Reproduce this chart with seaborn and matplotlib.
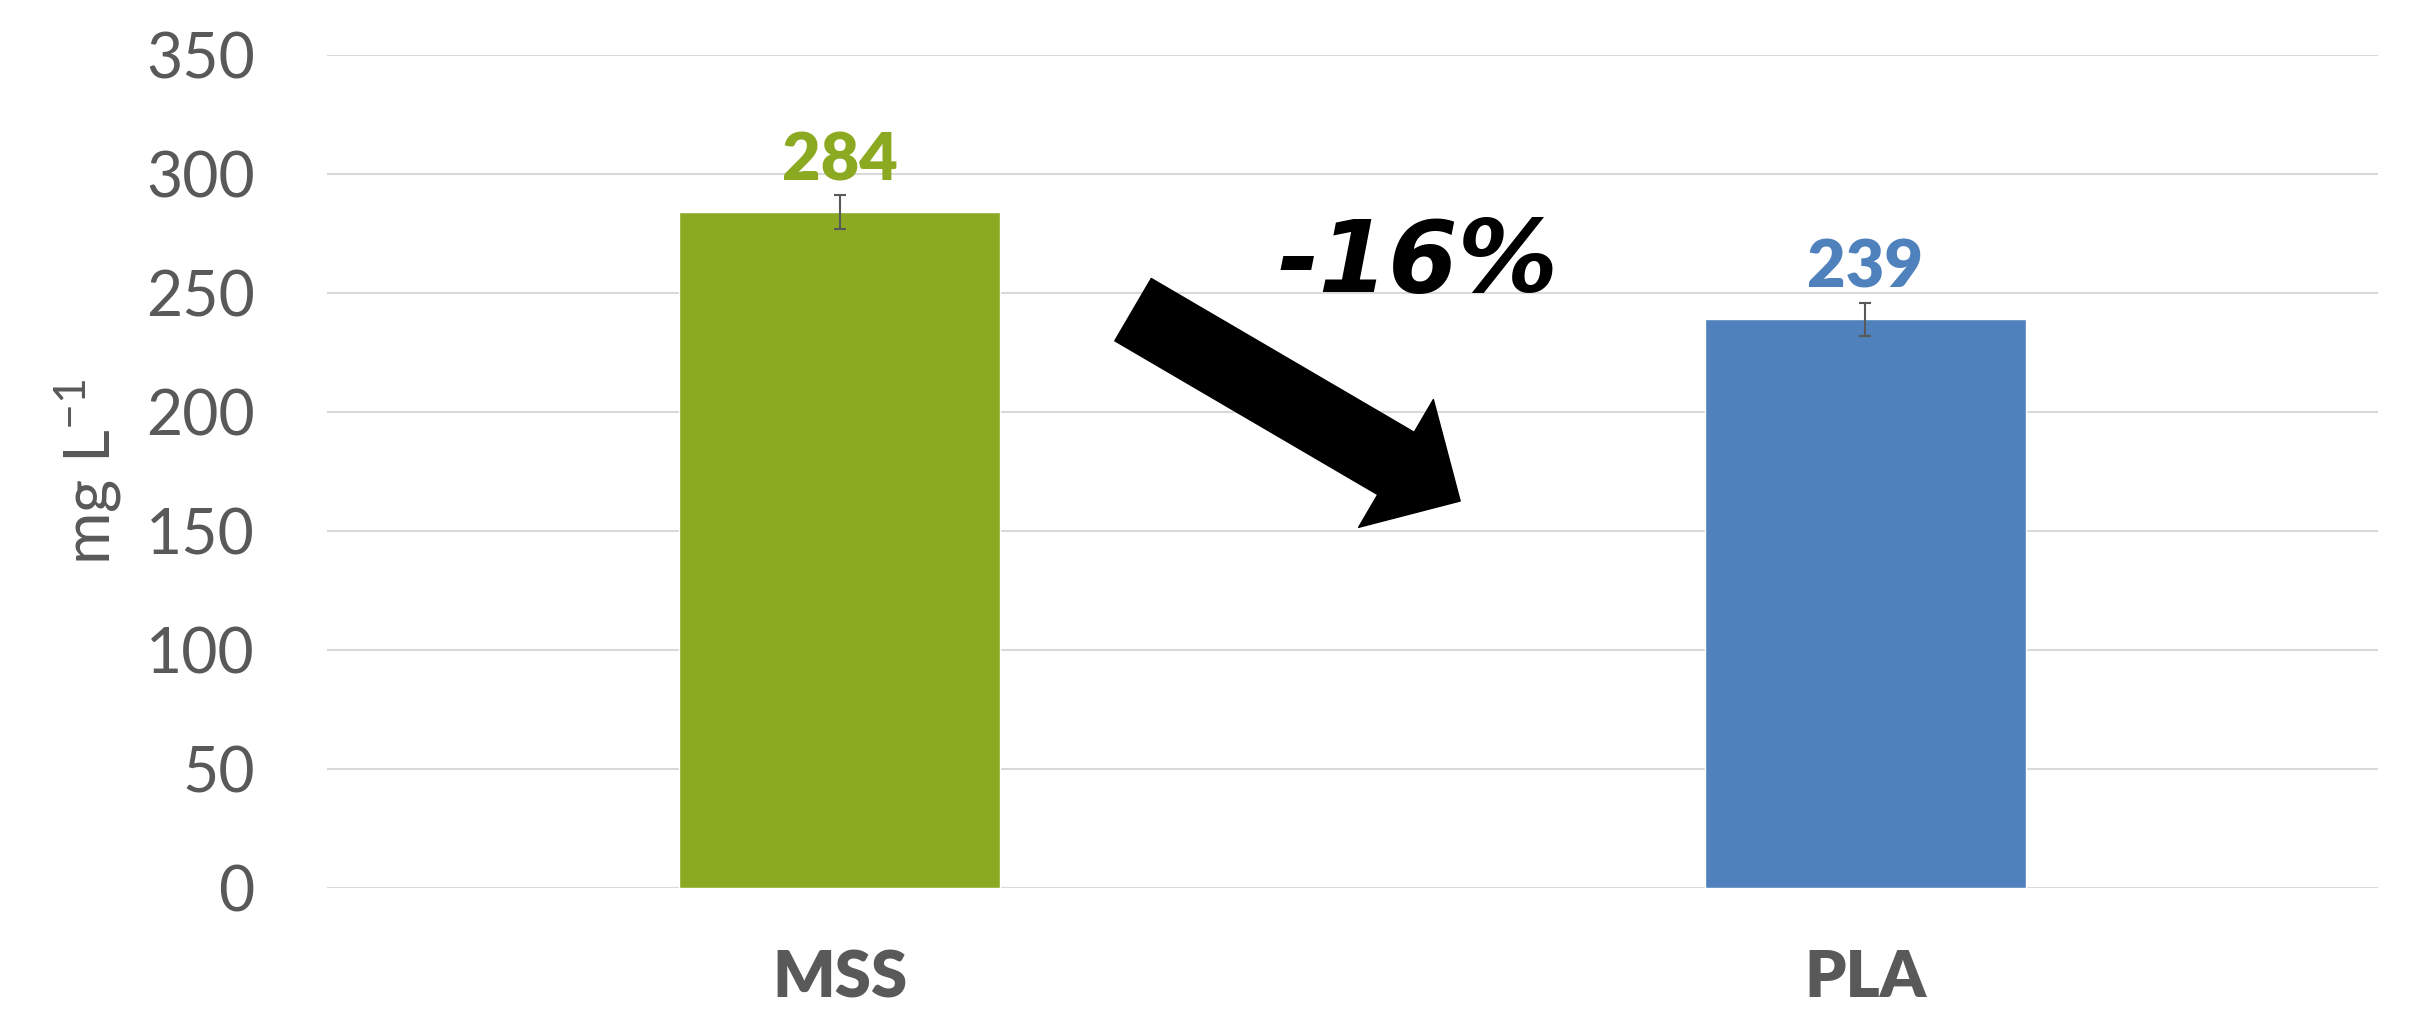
import matplotlib
matplotlib.use("Agg")
import matplotlib.pyplot as plt
import seaborn as sns
import pandas as pd

# ---- data ----
categories = ["MSS", "PLA"]
values = [284, 239]
errors = [7, 7]
bar_colors = ["#8BAA22", "#4F81BD"]
yticks = [0, 50, 100, 150, 200, 250, 300, 350]
change_label = "-16%"

sns.set_theme(style="white")
plt.rcParams['font.family'] = ['Lato', 'DejaVu Sans']

TEXT_GRAY = "#595959"

fig = plt.figure(figsize=(24.09, 10.17), dpi=100)
ax = fig.add_axes([327 / 2409, 1 - 888 / 1017, (2378 - 327) / 2409, (888 - 55) / 1017])

df = pd.DataFrame({"cat": categories, "val": values})
sns.barplot(data=df, x="cat", y="val", hue="cat", palette=bar_colors,
            width=0.313, legend=False, ax=ax, errorbar=None, saturation=1)

ax.errorbar(range(len(categories)), values, yerr=errors, fmt="none",
            ecolor=TEXT_GRAY, elinewidth=1.5, capsize=4.5, capthick=1.5, zorder=5)

for i, (v, e, c) in enumerate(zip(values, errors, bar_colors)):
    ax.annotate(str(v), xy=(i, v + e), xytext=(0, 11), textcoords="offset points",
                ha="center", va="baseline", fontsize=48, fontweight="heavy", color=c)

ax.set_xlim(-0.5, 1.5)
ax.set_ylim(0, 350)
ax.set_yticks(yticks)
ax.set_yticklabels([str(t) for t in yticks])
ax.yaxis.grid(True, color="#D9D9D9", linewidth=1.5)
ax.set_axisbelow(True)
for s in ax.spines.values():
    s.set_visible(False)

ax.tick_params(axis="y", length=0, pad=52, labelsize=45, labelcolor=TEXT_GRAY)
ax.tick_params(axis="x", length=0, pad=44, labelsize=47, labelcolor=TEXT_GRAY)
for lbl in ax.get_xticklabels():
    lbl.set_fontweight("heavy")

ax.set_xlabel("")
ax.set_ylabel(r"mg L$^{\mathregular{-1}}$", fontsize=46, color=TEXT_GRAY, labelpad=16)

# arrow annotation
ax.annotate("", xy=(0.605, 162.6), xytext=(0.286, 243),
            arrowprops=dict(arrowstyle="simple,head_length=1.03,head_width=2.05,tail_width=1.0",
                            mutation_scale=52, color="black", shrinkA=0, shrinkB=0))
ax.text(0.564, 262, change_label, ha="center", va="center", fontsize=72,
        fontweight="bold", fontstyle="oblique", family="DejaVu Sans", color="black")

fig.savefig("out.png", dpi=100)
